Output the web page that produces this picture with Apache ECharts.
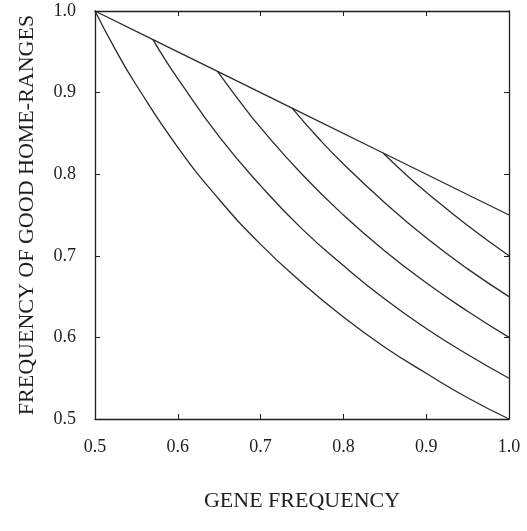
<!DOCTYPE html>
<html>
<head>
<meta charset="utf-8">
<script src="https://cdn.jsdelivr.net/npm/echarts@6/dist/echarts.min.js"></script>
<style>
  html, body { margin: 0; padding: 0; background: #fff; }
  #chart { width: 527px; height: 531px; }
</style>
</head>
<body>
<div id="chart"></div>
<script>
// values
// upper boundary (straight)
const topX = [0.5, 0.57, 0.648, 0.738, 0.848, 1.0]
const topY = [1.0, 0.965, 0.926, 0.881, 0.826, 0.75]

// curves, from lowest to highest
const c1X = [0.5, 0.525, 0.55, 0.6, 0.65, 0.7, 0.75, 0.8, 0.85, 0.9, 0.95, 1.0]
const c1Y = [1.0, 0.952, 0.909, 0.833, 0.769, 0.714, 0.667, 0.625, 0.588, 0.556, 0.526, 0.5]
const c2X = [0.57, 0.585, 0.6, 0.65, 0.7, 0.75, 0.8, 0.85, 0.9, 0.95, 1.0]
const c2Y = [0.965, 0.94, 0.917, 0.846, 0.786, 0.733, 0.688, 0.647, 0.611, 0.579, 0.55]
const c3X = [0.648, 0.675, 0.7, 0.75, 0.8, 0.85, 0.9, 0.95, 1.0]
const c3Y = [0.926, 0.889, 0.857, 0.8, 0.75, 0.706, 0.667, 0.632, 0.6]
const c4X = [0.738, 0.77, 0.8, 0.85, 0.9, 0.95, 1.0]
const c4Y = [0.881, 0.844, 0.8125, 0.765, 0.722, 0.684, 0.65]
const c5X = [0.848, 0.875, 0.9, 0.95, 1.0]
const c5Y = [0.826, 0.8, 0.778, 0.737, 0.7]

const pairs = (xs, ys) => xs.map((x, i) => [x, ys[i]])

const chart = echarts.init(document.getElementById('chart'))

const font = 'Liberation Serif, Times New Roman, serif'
const ink = '#1e1e1e'

const baseAxis = {
  type: 'value',
  min: 0.5,
  max: 1.0,
  interval: 0.1,
  axisLine: { show: true, lineStyle: { color: ink, width: 1.3 } },
  axisTick: { show: true, inside: true, length: 5, lineStyle: { color: ink } },
  splitLine: { show: false },
}

const line = (data, smooth) => ({
  type: 'line',
  data,
  smooth,
  symbol: 'none',
  lineStyle: { color: '#2a2a2a', width: 1.3 },
  silent: true,
})

chart.setOption({
  animation: false,
  backgroundColor: '#fff',
  grid: { left: 95, right: 18, top: 11, bottom: 112 },
  xAxis: [
    {
      ...baseAxis,
      position: 'bottom',
      name: 'GENE FREQUENCY',
      nameLocation: 'middle',
      nameGap: 71,
      nameTextStyle: { fontFamily: font, fontSize: 22, color: ink },
      axisLabel: {
        fontFamily: font, fontSize: 18, color: ink, margin: 19,
        formatter: v => v.toFixed(1),
      },
    },
    { ...baseAxis, position: 'top', axisLabel: { show: false } },
  ],
  yAxis: [
    {
      ...baseAxis,
      position: 'left',
      name: 'FREQUENCY OF GOOD HOME-RANGES',
      nameLocation: 'middle',
      nameGap: 57,
      nameTextStyle: { fontFamily: font, fontSize: 22, color: ink },
      axisLabel: {
        fontFamily: font, fontSize: 18, color: ink, margin: 19,
        formatter: v => v.toFixed(1),
      },
    },
    { ...baseAxis, position: 'right', axisLabel: { show: false } },
  ],
  series: [
    line(pairs(topX, topY), false),
    line(pairs(c1X, c1Y), true),
    line(pairs(c2X, c2Y), true),
    line(pairs(c3X, c3Y), true),
    line(pairs(c4X, c4Y), true),
    line(pairs(c5X, c5Y), true),
  ],
})
</script>
</body>
</html>
